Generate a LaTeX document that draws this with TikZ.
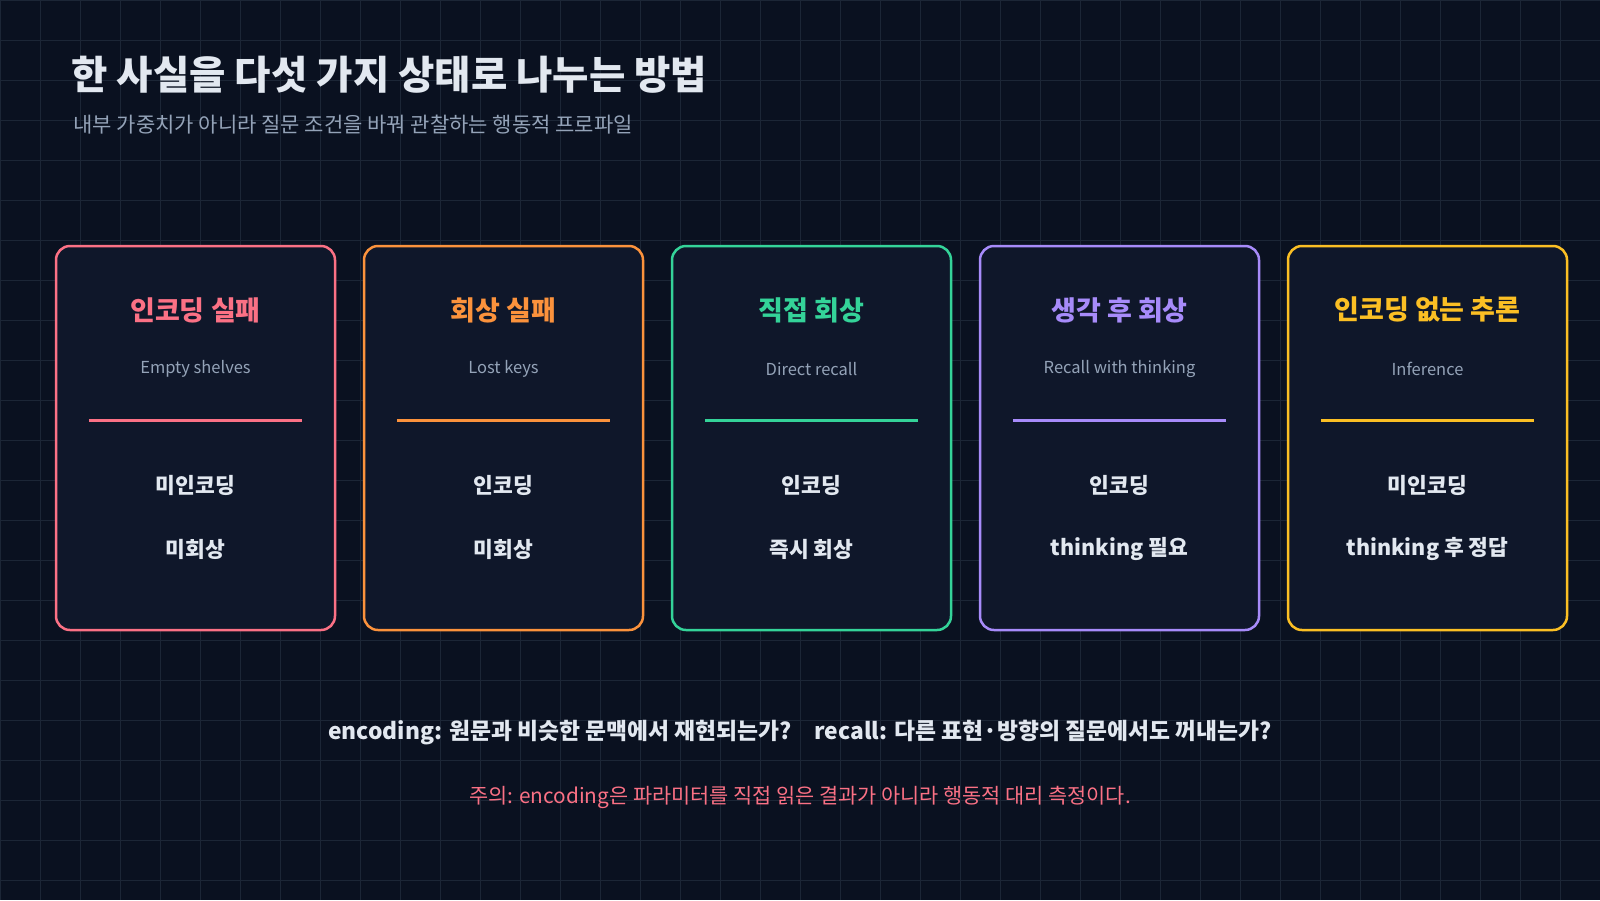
\documentclass[tikz,border=0pt]{standalone}
\usepackage{fontspec}
\setmainfont{Noto Sans CJK KR}
\definecolor{bg}{HTML}{0A1120}
\definecolor{gridc}{HTML}{1C2636}
\definecolor{cardf}{HTML}{0F172A}
\definecolor{muted}{HTML}{94A3B8}
\definecolor{txt}{HTML}{E2E8F0}
\definecolor{cA}{HTML}{FB7185}
\definecolor{cB}{HTML}{FB923C}
\definecolor{cC}{HTML}{34D399}
\definecolor{cD}{HTML}{A78BFA}
\definecolor{cE}{HTML}{FBBF24}
\tikzset{
 card/.style={draw=#1, line width=2.5pt, fill=cardf, rounded corners=14pt, minimum width=279pt, minimum height=384pt, inner sep=0pt},
 ctitle/.style={text=#1, font=\fontsize{27}{31}\selectfont\bfseries},
 csub/.style={text=muted, font=\fontsize{16.5}{19}\selectfont},
 cbody/.style={text=txt, font=\fontsize{21.5}{25}\selectfont\bfseries},
}
\newcommand{\mkcard}[7]{%
 \node[card=#2] (card#1) at (#3,438) {};
 \node[ctitle=#2] (t#1) at (#3,310) {#4};
 \node[csub] (s#1) at (#3,369) {#5};
 \draw[#2, line width=3pt] ([xshift=34pt]card#1.west |- 0,420) coordinate (la#1) -- ([xshift=-34pt]card#1.east |- 0,420) coordinate (lb#1);
 \node[cbody] (a#1) at (#3,485) {#6};
 \node[cbody] (b#1) at (#3,549) {#7};
}
\begin{document}
\begin{tikzpicture}[x=1pt,y=-1pt]
\fill[bg] (0,0) rectangle (1600,900);
\useasboundingbox (0,0) rectangle (1600,900);
\foreach \i in {0,40,...,1600} \draw[gridc, line width=1pt] (\i,0) -- (\i,900);
\foreach \j in {0,40,...,880} \draw[gridc, line width=1pt] (0,\j) -- (1600,\j);
\node[anchor=west, text=txt, font=\fontsize{39.5}{45}\selectfont\bfseries] (title) at (68,75) {한 사실을 다섯 가지 상태로 나누는 방법};
\node[anchor=west, text=muted, font=\fontsize{21}{25}\selectfont] (subtitle) at (70,125) {내부 가중치가 아니라 질문 조건을 바꿔 관찰하는 행동적 프로파일};
\mkcard{1}{cA}{195.5}{인코딩 실패}{Empty shelves}{미인코딩}{미회상}
\mkcard{2}{cB}{503.5}{회상 실패}{Lost keys}{인코딩}{미회상}
\mkcard{3}{cC}{811.5}{직접 회상}{Direct recall}{인코딩}{즉시 회상}
\mkcard{4}{cD}{1119.5}{생각 후 회상}{Recall with thinking}{인코딩}{thinking 필요}
\mkcard{5}{cE}{1427.5}{인코딩 없는 추론}{Inference}{미인코딩}{thinking 후 정답}
\node[text=txt, font=\fontsize{22.8}{27}\selectfont\bfseries] (q) at (800,733) {encoding: 원문과 비슷한 문맥에서 재현되는가?\quad recall: 다른 표현·방향의 질문에서도 꺼내는가?};
\node[text=cA, font=\fontsize{20.8}{25}\selectfont] (note) at (800,797) {주의: encoding은 파라미터를 직접 읽은 결과가 아니라 행동적 대리 측정이다.};
\end{tikzpicture}
\end{document}
